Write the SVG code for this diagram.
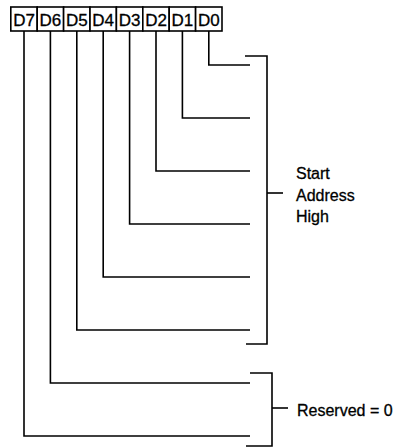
<svg xmlns="http://www.w3.org/2000/svg" width="398" height="447" viewBox="0 0 398 447">
<style>
.cell{fill:#fff;stroke:#000;stroke-width:1.6}
.bit{font-family:"Liberation Sans",Arial,sans-serif;font-size:17px;fill:#000;stroke:#000;stroke-width:0.3;text-anchor:middle}
.lbl{font-family:"Liberation Sans",Arial,sans-serif;font-size:16px;fill:#000;stroke:#000;stroke-width:0.3}
.ln{fill:none;stroke:#000;stroke-width:1.6}
</style>
<rect width="398" height="447" fill="#fff"/>
<g id="register">
<g id="D7"><rect class="cell" x="10.8" y="7" width="26.4" height="24"/><text class="bit" x="24" y="26">D7</text></g>
<g id="D6"><rect class="cell" x="37.2" y="7" width="26.4" height="24"/><text class="bit" x="50.4" y="26">D6</text></g>
<g id="D5"><rect class="cell" x="63.6" y="7" width="26.4" height="24"/><text class="bit" x="76.8" y="26">D5</text></g>
<g id="D4"><rect class="cell" x="90" y="7" width="26.4" height="24"/><text class="bit" x="103.2" y="26">D4</text></g>
<g id="D3"><rect class="cell" x="116.4" y="7" width="26.4" height="24"/><text class="bit" x="129.6" y="26">D3</text></g>
<g id="D2"><rect class="cell" x="142.8" y="7" width="26.4" height="24"/><text class="bit" x="156" y="26">D2</text></g>
<g id="D1"><rect class="cell" x="169.2" y="7" width="26.4" height="24"/><text class="bit" x="182.4" y="26">D1</text></g>
<g id="D0"><rect class="cell" x="195.6" y="7" width="26.4" height="24"/><text class="bit" x="208.8" y="26">D0</text></g>
</g>
<g id="connectors">
<polyline class="ln" points="208.8,31 208.8,65 250,65"/>
<polyline class="ln" points="182.4,31 182.4,118 250,118"/>
<polyline class="ln" points="156,31 156,171 250,171"/>
<polyline class="ln" points="129.6,31 129.6,224 250,224"/>
<polyline class="ln" points="103.2,31 103.2,277 250,277"/>
<polyline class="ln" points="76.8,31 76.8,330 250,330"/>
<polyline class="ln" points="50.4,31 50.4,383 250,383"/>
<polyline class="ln" points="24,31 24,436 250,436"/>
</g>
<g id="start-address-high">
<polyline class="ln" points="245,56 267,56 267,344 246,344"/>
<line class="ln" x1="267" y1="193" x2="283" y2="193"/>
<text class="lbl" x="296" y="179">Start</text>
<text class="lbl" x="296" y="201">Address</text>
<text class="lbl" x="296" y="222">High</text>
</g>
<g id="reserved">
<polyline class="ln" points="250,373 272,373 272,446 246,446"/>
<line class="ln" x1="272" y1="408" x2="288" y2="408"/>
<text class="lbl" x="297" y="416">Reserved = 0</text>
</g>
</svg>
